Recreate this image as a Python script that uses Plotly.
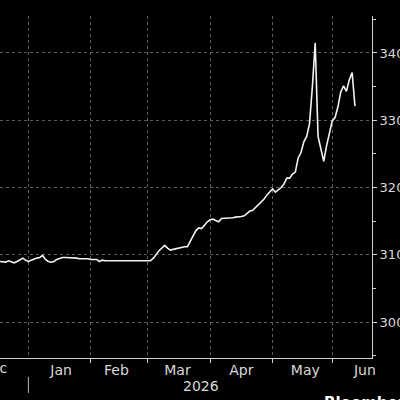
import pandas as pd
import plotly.graph_objects as go

# trading days (weekdays) from 18 Dec 2025 to 11 Jun 2026
dates = pd.bdate_range("2025-12-18", "2026-06-11")
values = [
    309.0, 308.9, 308.9, 309.1, 309.0, 308.8, 309.0, 309.2, 309.5, 309.2,   # Dec
    309.0, 309.2, 309.4, 309.5, 309.6, 309.9, 309.3, 309.0, 308.9, 309.0,   # Jan
    309.3, 309.5, 309.6, 309.6, 309.6, 309.6, 309.5, 309.5, 309.4, 309.4,
    309.5, 309.4,
    309.3, 309.3, 309.3, 309.0, 309.2, 309.1, 309.1, 309.1, 309.1, 309.1,   # Feb
    309.1, 309.1, 309.1, 309.2, 309.2, 309.2, 309.2, 309.2, 309.2, 309.1,
    309.1, 309.1, 309.5, 310.1, 310.6, 311.0, 311.4, 311.0, 310.7, 310.8,   # Mar
    310.9, 311.1, 311.2, 311.2, 311.2, 312.0, 313.0, 313.6, 314.0, 313.9,
    314.4, 314.9,
    315.2, 315.3, 315.1, 314.9, 315.4, 315.4, 315.4, 315.4, 315.5, 315.6,   # Apr
    315.6, 315.7, 315.8, 316.2, 316.5, 316.6, 317.0, 317.4, 317.8, 318.3,
    318.9, 319.4,
    319.8, 319.3, 319.6, 320.0, 320.5, 321.4, 321.4, 322.0, 322.3, 324.4,   # May
    325.2, 326.8, 327.6, 329.5, 335.0, 341.5, 327.6, 325.9, 323.9, 326.2,
    328.2,
    329.9, 330.4, 332.0, 334.2, 335.1, 334.3, 336.0, 337.1, 332.1,          # Jun
]
y_ticks = [300, 310, 320, 330, 340]
y_minor = [295, 305, 315, 325, 335, 345]

fnt = "DejaVu Sans"
grid_col = "#5e5e5e"
axis_col = "#cfcfcf"
txt_col = "#d8d8d8"

fig = go.Figure()
fig.add_trace(go.Scatter(x=dates, y=values, mode="lines",
                         line=dict(color="#f2f2f2", width=1.6),
                         hoverinfo="skip", showlegend=False))

fig.update_layout(
    width=400, height=400,
    paper_bgcolor="black", plot_bgcolor="black",
    margin=dict(l=0, r=28, t=16, b=42),
    font=dict(family=fnt, size=13, color=txt_col),
    xaxis=dict(
        type="date", automargin=False,
        range=["2025-12-18", "2026-06-19"],
        rangebreaks=[dict(bounds=["sat", "mon"])],
        tick0="2026-01-01", dtick="M1",
        tickformat="%b", ticklabelmode="period",
        ticklabelstandoff=-5,
        showgrid=True, gridcolor=grid_col, griddash="dot", gridwidth=1,
        showline=True, linecolor=axis_col, linewidth=1,
        ticks="outside", ticklen=4, tickcolor=axis_col,
        tickfont=dict(family=fnt, size=14, color=txt_col),
        zeroline=False,
    ),
    yaxis=dict(
        side="right", automargin=False,
        range=[294.65, 345.5],
        tickvals=y_ticks,
        showgrid=True, gridcolor=grid_col, griddash="dot", gridwidth=1,
        showline=True, linecolor=axis_col, linewidth=1,
        ticks="outside", ticklen=4, tickcolor=axis_col,
        minor=dict(tickvals=y_minor, ticks="outside",
                   ticklen=3, tickcolor=axis_col, showgrid=False),
        tickfont=dict(family=fnt, size=13, color=txt_col),
        zeroline=False,
    ),
)

fig.add_annotation(text="Dec", xref="paper", yref="paper", x=0.025, y=-0.0,
                   xanchor="right", yanchor="top", showarrow=False,
                   font=dict(family=fnt, size=14, color=txt_col))
fig.add_annotation(text="2026", xref="paper", yref="paper", x=0.54, y=-0.054,
                   xanchor="center", yanchor="top", showarrow=False,
                   font=dict(family=fnt, size=14, color=txt_col))
fig.add_shape(type="line", xref="x", yref="paper", x0="2026-01-01", x1="2026-01-01",
              y0=-0.055, y1=-0.102, line=dict(color="#bbbbbb", width=1))
fig.add_annotation(text="<b>Bloomberg</b>", xref="paper", yref="paper", x=0.866, y=-0.1,
                   xanchor="left", yanchor="top", showarrow=False,
                   font=dict(family=fnt, size=15, color="#ffffff"))

fig.write_html("out.html", config={"displayModeBar": False},
               post_script="document.body.style.margin='0';document.body.style.background='black';")
